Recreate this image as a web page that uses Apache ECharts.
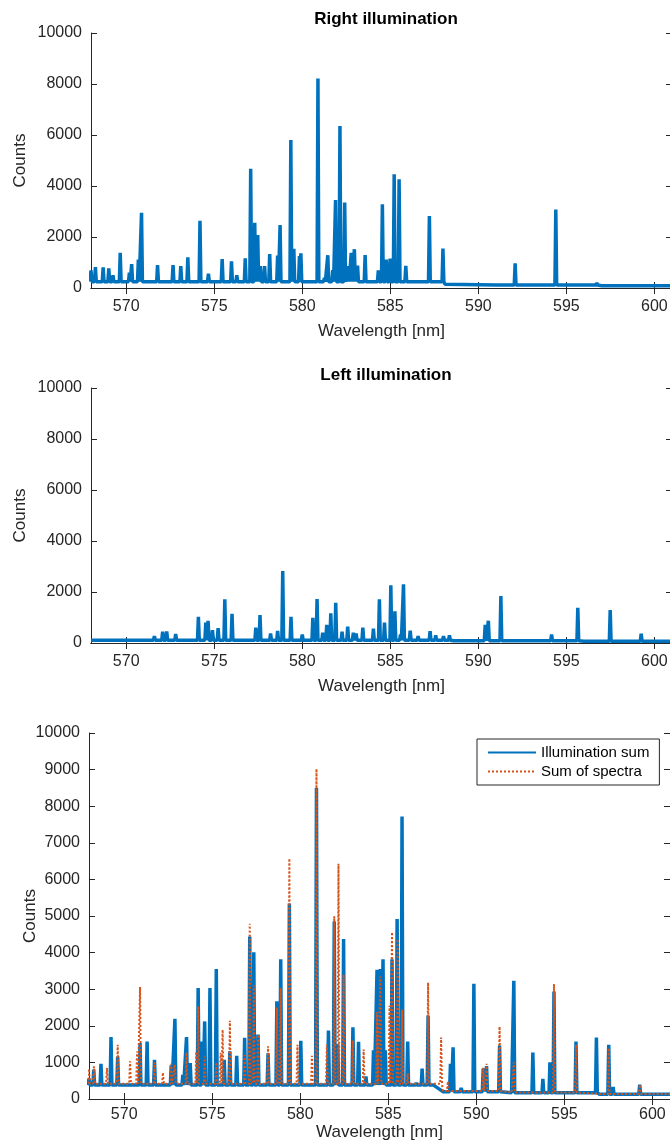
<!DOCTYPE html>
<html>
<head>
<meta charset="utf-8">
<title>Spectra</title>
<script src="https://cdn.jsdelivr.net/npm/echarts@6/dist/echarts.min.js"></script>
<style>
html, body { margin: 0; padding: 0; background: #fff; }
#chart { width: 670px; height: 1140px; }
</style>
</head>
<body>
<div id="chart"></div>
<script>
// axis ranges / ticks
var xMin = 568, xMax = 601;
var xTicks = [570, 575, 580, 585, 590, 595, 600];
var yTicksTop = [0, 2000, 4000, 6000, 8000, 10000];
var yTicksSum = [0, 1000, 2000, 3000, 4000, 5000, 6000, 7000, 8000, 9000, 10000];

// Right illumination: peaks [nm, counts] and baseline steps [from nm, counts]
var rightPeaks = [
  [568.0, 690], [568.25, 820], [568.69, 810], [569.01, 770], [569.25, 500], [569.66, 1380],
  [570.18, 600], [570.31, 940], [570.69, 1110], [570.87, 2950], [571.78, 900], [572.66, 900],
  [573.1, 860], [573.5, 1200], [574.19, 2635], [574.67, 560], [575.45, 1130], [575.98, 1050],
  [576.28, 500], [576.76, 1160], [577.07, 4680], [577.3, 2560], [577.47, 2080], [577.62, 860],
  [577.86, 860], [578.15, 1330], [578.6, 1270], [578.74, 2470], [579.35, 5800], [579.52, 1540],
  [579.84, 1250], [579.92, 1360], [580.2, 300], [580.89, 8220], [581.26, 400], [581.45, 1285],
  [581.73, 700], [581.89, 3450], [582.14, 6350], [582.41, 3350], [582.62, 860], [582.78, 1380],
  [582.96, 1520], [583.14, 880], [583.57, 1290], [584.32, 690], [584.55, 3280], [584.77, 1110],
  [584.99, 1150], [585.22, 4460], [585.5, 4260], [585.88, 870], [587.22, 2820], [587.54, 300],
  [587.99, 1545], [592.09, 970], [594.4, 3080], [596.73, 200]
];
var rightBase = [[568, 250], [588.1, 150], [591, 115], [597, 85]];

// Left illumination
var leftPeaks = [
  [571.6, 270], [572.07, 440], [572.3, 450], [572.81, 350], [574.1, 1030], [574.52, 800],
  [574.65, 870], [574.9, 500], [575.22, 580], [575.6, 1710], [576.01, 1140], [577.36, 600],
  [577.6, 1100], [578.2, 370], [578.6, 470], [578.89, 2820], [579.36, 1030], [580.0, 330],
  [580.6, 990], [580.84, 1720], [581.16, 400], [581.39, 710], [581.62, 1160], [581.9, 1580],
  [582.26, 440], [582.58, 640], [582.9, 400], [583.06, 370], [583.44, 600], [584.04, 560],
  [584.38, 1710], [584.67, 800], [585.03, 2260], [585.26, 1240], [585.58, 330], [585.75, 2300],
  [586.13, 480], [586.58, 270], [587.26, 460], [587.58, 300], [588.02, 270], [588.36, 300],
  [590.39, 710], [590.57, 870], [591.28, 1840], [593.66, 120], [594.16, 330], [595.65, 1380],
  [597.49, 1290], [597.94, 140], [599.25, 360]
];
var leftBase = [[568, 110], [588.6, 90], [596, 70]];

// Illumination sum (measured)
var sumPeaks = [
  [568.0, 560], [568.27, 800], [568.68, 960], [569.25, 1690], [569.63, 1160], [570.9, 1530],
  [571.3, 1570], [571.72, 1070], [572.67, 920], [572.88, 2190], [573.33, 660], [573.54, 1690],
  [573.75, 980], [574.2, 3030], [574.43, 1570], [574.57, 2120], [574.87, 3030], [575.23, 3550],
  [575.68, 1070], [576.0, 1300], [576.39, 1180], [576.84, 1670], [577.13, 4440], [577.36, 4010],
  [577.6, 1760], [578.17, 1250], [578.67, 2670], [578.89, 3820], [579.38, 5340], [580.03, 1590],
  [580.92, 8500], [581.6, 1870], [581.93, 4850], [582.13, 1500], [582.46, 4370], [582.99, 1960],
  [583.31, 1560], [583.73, 620], [584.16, 1330], [584.36, 3530], [584.55, 3550], [584.7, 3820],
  [584.83, 1330], [585.21, 3820], [585.5, 4920], [585.78, 7720], [586.1, 1570], [586.59, 440],
  [586.92, 830], [587.26, 2280], [587.62, 330], [588.53, 960], [588.68, 1410], [589.14, 300],
  [589.86, 3150], [590.39, 830], [590.58, 900], [591.32, 1460], [592.13, 3230], [593.21, 1270],
  [593.78, 550], [594.18, 1000], [594.41, 2940], [595.66, 1570], [596.82, 1680], [597.52, 1480],
  [597.77, 330], [599.28, 390]
];
var sumBase = [[568, 380], [588.1, 200], [592, 170], [597, 130]];

// Sum of spectra (right + left)
var specPeaks = [
  [568.0, 820], [568.28, 890], [569.02, 850], [569.63, 1480], [570.33, 1030], [570.73, 1300],
  [570.9, 3060], [571.72, 1000], [572.2, 720], [572.67, 960], [572.88, 940], [573.54, 1270],
  [574.09, 1290], [574.2, 2530], [574.57, 1160], [575.23, 1000], [575.48, 1260], [575.59, 1890],
  [576.0, 2140], [576.84, 1200], [577.13, 4790], [577.36, 3100], [577.6, 1760], [578.17, 1440],
  [578.67, 2500], [578.89, 3030], [579.38, 6570], [579.84, 1480], [580.66, 1180], [580.92, 9020],
  [581.51, 1480], [581.93, 4990], [582.17, 6430], [582.46, 3400], [582.99, 1600], [583.6, 1350],
  [584.36, 2380], [584.55, 3350], [585.07, 2550], [585.21, 4560], [585.53, 4370], [585.78, 2440],
  [586.1, 700], [587.26, 3180], [588.0, 1680], [588.38, 480], [590.39, 860], [590.58, 960],
  [591.32, 1980], [592.13, 1000], [594.41, 3140], [595.66, 1480], [597.52, 1390], [599.28, 390]
];
var specBase = [[568, 420], [588.1, 220], [592, 180], [597, 140]];

var font = "'Liberation Sans', Arial, sans-serif";
var ink = '#262626';

// baseline level at x (step lookup)
function baseAt (base, x) {
  var v = base[0][1];
  for (var i = 0; i < base.length; i++) {
    if (base[i][0] <= x) v = base[i][1];
  }
  return v;
}

// line points: baseline anchors + a narrow spike for each peak
function buildLine (peaks, base) {
  var hw = 0.05;
  var pts = [[xMin, base[0][1]], [xMax, base[base.length - 1][1]]];
  base.forEach(function (b) { pts.push([b[0], b[1]]); });
  peaks.forEach(function (p) {
    pts.push([p[0] - hw, baseAt(base, p[0] - hw)]);
    pts.push([p[0], p[1]]);
    pts.push([p[0] + hw, baseAt(base, p[0] + hw)]);
  });
  pts.sort(function (a, b) { return a[0] - b[0]; });
  return pts;
}

var grids = [
  { left: 91, top: 33, width: 581, height: 255, outerBoundsMode: 'none', containLabel: false },
  { left: 91, top: 388, width: 581, height: 255, outerBoundsMode: 'none', containLabel: false },
  { left: 89, top: 733, width: 581, height: 366, outerBoundsMode: 'none', containLabel: false }
];

var xAxes = [], yAxes = [];
grids.forEach(function (g, i) {
  var yInterval = i === 2 ? 1000 : 2000;
  xAxes.push({
    type: 'value', gridIndex: i, min: xMin, max: xMax, position: 'bottom',
    name: 'Wavelength [nm]', nameLocation: 'middle', nameGap: i === 2 ? 24 : 35,
    nameTextStyle: { color: ink, fontSize: 17, fontFamily: font },
    axisLine: { show: true, lineStyle: { color: ink, width: 1 } },
    axisTick: { show: true, inside: true, length: 6, customValues: xTicks, lineStyle: { color: ink } },
    axisLabel: { show: true, customValues: xTicks, margin: i === 2 ? 8 : 11, color: ink, fontSize: 16, fontFamily: font },
    splitLine: { show: false }
  });
  xAxes.push({
    type: 'value', gridIndex: i, min: xMin, max: xMax, position: 'top',
    axisLine: { show: true, lineStyle: { color: ink, width: 1 } },
    axisTick: { show: true, inside: true, length: 6, customValues: xTicks, lineStyle: { color: ink } },
    axisLabel: { show: false },
    splitLine: { show: false }
  });
  yAxes.push({
    type: 'value', gridIndex: i, min: 0, max: 10000, interval: yInterval, position: 'left',
    name: 'Counts', nameLocation: 'middle', nameGap: i === 2 ? 50 : 62, nameMoveOverlap: false,
    nameTextStyle: { color: ink, fontSize: 17, fontFamily: font },
    axisLine: { show: true, lineStyle: { color: ink, width: 1 } },
    axisTick: { show: true, inside: true, length: 6, lineStyle: { color: ink } },
    axisLabel: {
      show: true, margin: 9, color: ink, fontSize: 16, fontFamily: font,
      formatter: function (v) { return String(v); }
    },
    splitLine: { show: false }
  });
  yAxes.push({
    type: 'value', gridIndex: i, min: 0, max: 10000, interval: yInterval, position: 'right',
    axisLine: { show: true, lineStyle: { color: ink, width: 1 } },
    axisTick: { show: true, inside: true, length: 6, lineStyle: { color: ink } },
    axisLabel: { show: false },
    splitLine: { show: false }
  });
});

function lineSeries (name, idx, data, color, width, type) {
  return {
    name: name, type: 'line', xAxisIndex: idx * 2, yAxisIndex: idx * 2,
    data: data, showSymbol: false, symbol: 'none', sampling: null,
    lineStyle: { color: color, width: width, type: type || 'solid' },
    itemStyle: { color: color },
    animation: false, z: type === 'dotted' ? 3 : 2
  };
}

var chart = echarts.init(document.getElementById('chart'), null, { renderer: 'canvas' });
chart.setOption({
  animation: false,
  backgroundColor: '#fff',
  title: [
    { text: 'Right illumination', left: 381, top: 6, textAlign: 'center',
      textStyle: { fontSize: 17, fontWeight: 'bold', color: '#000', fontFamily: font } },
    { text: 'Left illumination', left: 381, top: 362, textAlign: 'center',
      textStyle: { fontSize: 17, fontWeight: 'bold', color: '#000', fontFamily: font } }
  ],
  legend: {
    data: ['Illumination sum', 'Sum of spectra'],
    orient: 'vertical', left: 477, top: 739,
    itemWidth: 48, itemHeight: 12, itemGap: 4,
    padding: [6, 10, 6, 10],
    backgroundColor: '#fff', borderColor: ink, borderWidth: 1,
    itemStyle: { opacity: 0, borderWidth: 0 },
    textStyle: { color: '#000', fontSize: 15, fontFamily: font }
  },
  grid: grids,
  xAxis: xAxes,
  yAxis: yAxes,
  series: [
    lineSeries('Right illumination', 0, buildLine(rightPeaks, rightBase), '#0072BD', 3.5),
    lineSeries('Left illumination', 1, buildLine(leftPeaks, leftBase), '#0072BD', 3.5),
    lineSeries('Illumination sum', 2, buildLine(sumPeaks, sumBase), '#0072BD', 3.5),
    lineSeries('Sum of spectra', 2, buildLine(specPeaks, specBase), '#D95319', 2, 'dotted')
  ]
});
</script>
</body>
</html>
